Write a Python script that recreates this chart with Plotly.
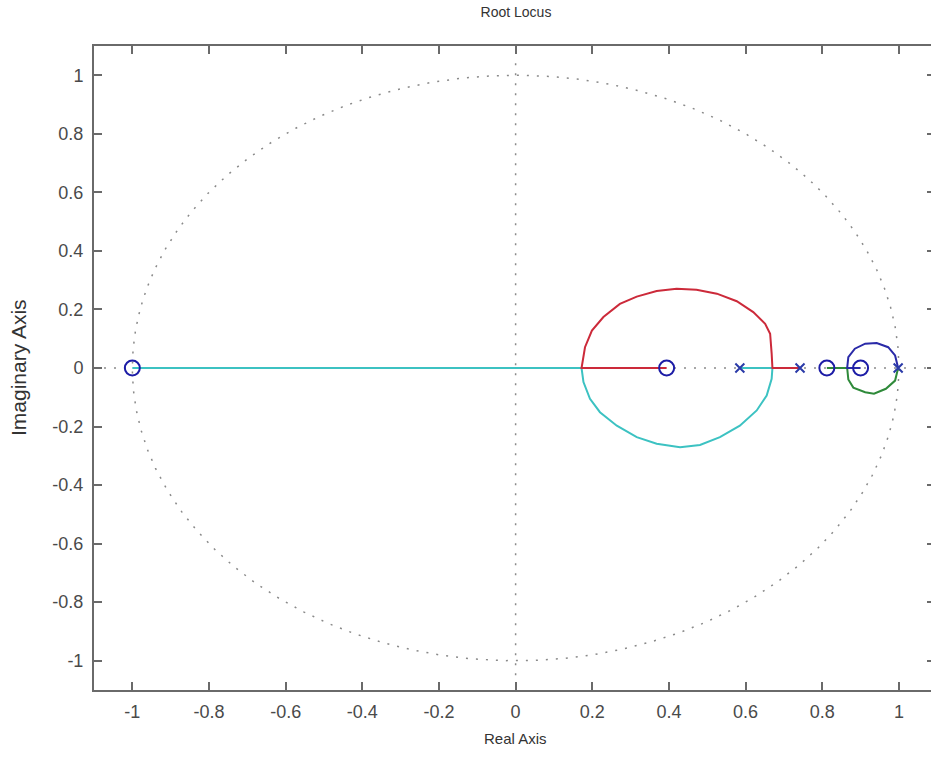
import numpy as np
import plotly.graph_objects as go

# ---- data -------------------------------------------------------------
# open-loop poles and zeros (real axis)
pole_re = [0.585, 0.742, 0.998]
pole_im = [0.0, 0.0, 0.0]
zero_re = [-1.0, 0.394, 0.812, 0.900]
zero_im = [0.0, 0.0, 0.0, 0.0]

# branch 1 (red): pole 0.742 -> breakaway -> upper arc -> break-in -> zero 0.394
red_re = [0.742, 0.670, 0.668, 0.664, 0.651, 0.620, 0.577, 0.525, 0.472, 0.420,
          0.368, 0.316, 0.272, 0.229, 0.199, 0.181, 0.172, 0.394]
red_im = [0.0, 0.0, 0.049, 0.117, 0.151, 0.191, 0.228, 0.254, 0.267, 0.271,
          0.263, 0.244, 0.219, 0.174, 0.128, 0.071, 0.0, 0.0]

# branch 2 (cyan): pole 0.585 -> breakaway -> lower arc -> break-in -> zero -1
cyan_re = [0.585, 0.670, 0.668, 0.655, 0.629, 0.585, 0.533, 0.481, 0.429, 0.368,
           0.316, 0.264, 0.220, 0.194, 0.177, 0.172, -1.0]
cyan_im = [0.0, 0.0, -0.037, -0.094, -0.145, -0.197, -0.236, -0.263, -0.271, -0.259,
           -0.236, -0.197, -0.151, -0.105, -0.048, 0.0, 0.0]

# branch 3 (blue): pole 0.998 -> upper arc -> break-in -> zero 0.900
blue_re = [0.998, 0.990, 0.972, 0.942, 0.912, 0.885, 0.868, 0.865, 0.900]
blue_im = [0.0, 0.043, 0.071, 0.085, 0.083, 0.066, 0.037, 0.0, 0.0]

# branch 4 (green): pole 0.998 -> lower arc -> break-in -> zero 0.812
green_re = [0.998, 0.990, 0.966, 0.935, 0.912, 0.881, 0.868, 0.865, 0.812]
green_im = [0.0, -0.043, -0.071, -0.088, -0.083, -0.067, -0.039, 0.0, 0.0]

x_ticks = [-1, -0.8, -0.6, -0.4, -0.2, 0, 0.2, 0.4, 0.6, 0.8, 1]
y_ticks = [-1, -0.8, -0.6, -0.4, -0.2, 0, 0.2, 0.4, 0.6, 0.8, 1]
x_tick_text = ["-1", "-0.8", "-0.6", "-0.4", "-0.2", "0", "0.2", "0.4", "0.6", "0.8", "1"]
y_tick_text = ["-1", "-0.8", "-0.6", "-0.4", "-0.2", "0", "0.2", "0.4", "0.6", "0.8", "1"]

# ---- styling ----------------------------------------------------------
FONT = "Liberation Sans, Arial, sans-serif"
AX_COL = "#6a6a6a"
TXT_COL = "#4a4a4a"
GRID_COL = "#8a8a8a"
DOT = "2px,8px"

fig = go.Figure()

# unit circle and real/imaginary axis guides (dotted)
th = np.linspace(0, 2 * np.pi, 721)
fig.add_trace(go.Scatter(x=np.cos(th), y=np.sin(th), mode="lines",
                         line=dict(color=GRID_COL, width=1.5, dash=DOT),
                         hoverinfo="skip", showlegend=False))
fig.add_trace(go.Scatter(x=[0, 0], y=[-1.05, 1.05], mode="lines",
                         line=dict(color=GRID_COL, width=1.5, dash=DOT),
                         hoverinfo="skip", showlegend=False))
fig.add_trace(go.Scatter(x=[-1.1, 1.1], y=[0, 0], mode="lines",
                         line=dict(color=GRID_COL, width=1.5, dash=DOT),
                         hoverinfo="skip", showlegend=False))

# locus branches
for xs, ys, col in [(cyan_re, cyan_im, "#3cc2c2"),
                    (red_re, red_im, "#cc2a3a"),
                    (green_re, green_im, "#2f8a3a"),
                    (blue_re, blue_im, "#2a2aa8")]:
    fig.add_trace(go.Scatter(x=xs, y=ys, mode="lines",
                             line=dict(color=col, width=2),
                             showlegend=False))

# poles and zeros
fig.add_trace(go.Scatter(x=zero_re, y=zero_im, mode="markers",
                         marker=dict(symbol="circle-open", size=15, color="#1c1ca6",
                                     line=dict(width=2, color="#1c1ca6")),
                         showlegend=False))
fig.add_trace(go.Scatter(x=pole_re, y=pole_im, mode="markers",
                         marker=dict(symbol="x-thin-open", size=9, color="#2a3aa8",
                                     line=dict(width=2, color="#2a3aa8")),
                         showlegend=False))
# carrier for the right-hand tick marks
fig.add_trace(go.Scatter(x=[0], y=[0], yaxis="y2", mode="markers",
                         marker=dict(opacity=0), hoverinfo="skip", showlegend=False))

L, T, B = 94, 46, 67
W, H = 931, 757

fig.update_layout(
    width=W, height=H,
    margin=dict(l=L, r=0, t=T, b=B),
    paper_bgcolor="white", plot_bgcolor="white",
    font=dict(family=FONT, color=TXT_COL, size=15),
    xaxis=dict(range=[-1.1, 1.0837], tickvals=x_ticks, ticktext=x_tick_text,
               ticks="inside", ticklen=8, tickwidth=1.5, tickcolor=AX_COL,
               showline=True, linecolor=AX_COL, linewidth=2, mirror="ticks",
               showgrid=False, zeroline=False,
               tickfont=dict(size=18, color=TXT_COL), ticklabelstandoff=4),
    yaxis=dict(range=[-1.1, 1.1], tickvals=y_ticks, ticktext=y_tick_text,
               ticks="inside", ticklen=8, tickwidth=1.5, tickcolor=AX_COL,
               showline=True, linecolor=AX_COL, linewidth=2, mirror=False,
               showgrid=False, zeroline=False,
               tickfont=dict(size=18, color=TXT_COL), ticklabelstandoff=5),
    yaxis2=dict(range=[-1.1, 1.1], overlaying="y", side="right", anchor="x",
                tickvals=y_ticks, showticklabels=False,
                ticks="inside", ticklen=4, tickwidth=1.5, tickcolor=AX_COL,
                showline=False, showgrid=False, zeroline=False),
    title=dict(text="Root Locus", x=516 / W, xref="container", xanchor="center",
               y=1 - 12 / H, yref="container", yanchor="middle",
               font=dict(size=14, color="#333333", family=FONT)),
)

plot_h = H - T - B
plot_w = W - L
fig.add_annotation(text="Real Axis", xref="paper", yref="paper",
                   x=(515.5 - L) / plot_w, y=-(738 - (H - B)) / plot_h,
                   xanchor="center", yanchor="middle", showarrow=False,
                   font=dict(size=15, color="#333333", family=FONT))
fig.add_annotation(text="Imaginary Axis", xref="paper", yref="paper",
                   x=-(L - 18) / plot_w, y=0.5, textangle=-90,
                   xanchor="center", yanchor="middle", showarrow=False,
                   font=dict(size=21, color="#333333", family=FONT))

fig.write_html("out.html")
